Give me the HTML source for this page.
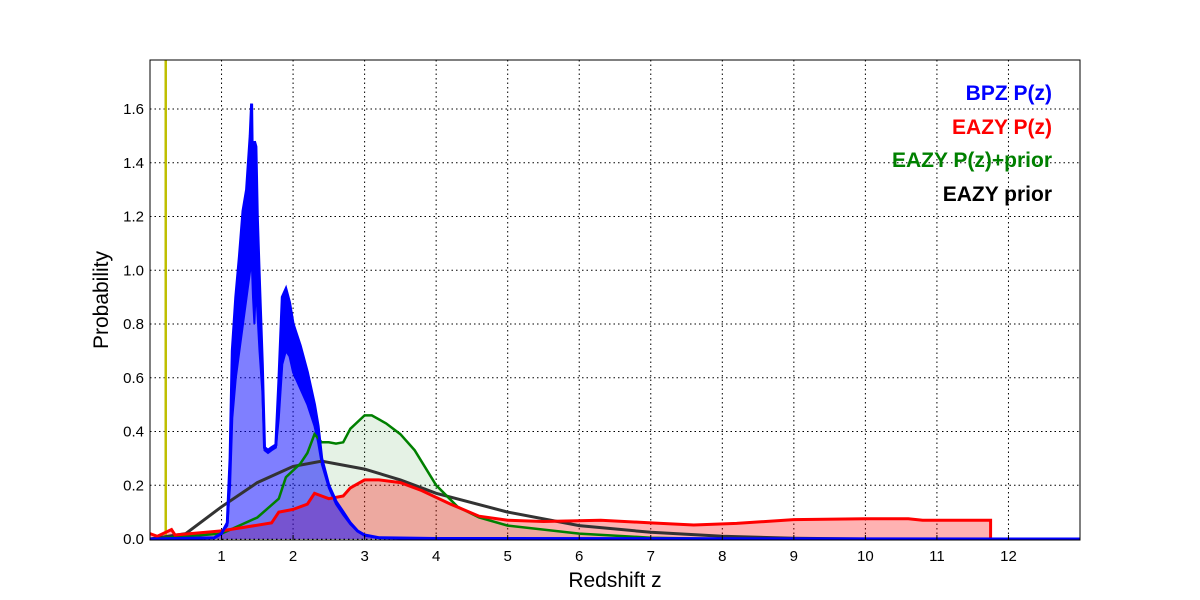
<!DOCTYPE html>
<html><head><meta charset="utf-8"><style>
body{margin:0;background:#fff;}
svg{display:block;font-family:"Liberation Sans","DejaVu Sans",sans-serif;}
</style></head><body>
<svg id="chart" width="1200" height="600">
<g id="grid"></g>
<g id="fills"></g>
<g id="lines"></g>
<rect x="150" y="60" width="930" height="480" fill="none" stroke="#000" stroke-width="1"/>
<g id="ticks"></g>
<text x="615" y="587" font-size="21" text-anchor="middle">Redshift z</text>
<text x="108" y="300" font-size="21" text-anchor="middle" transform="rotate(-90 108 300)">Probability</text>
<g font-size="21" font-weight="bold" text-anchor="end">
<text x="1052" y="100" fill="#0000ff">BPZ P(z)</text>
<text x="1052" y="134" fill="#ff0000">EAZY P(z)</text>
<text x="1052" y="167" fill="#008000">EAZY P(z)+prior</text>
<text x="1052" y="201" fill="#000">EAZY prior</text>
</g>
</svg>
<script>
const xTicks=[1,2,3,4,5,6,7,8,9,10,11,12];
const yTicks=[0,0.2,0.4,0.6,0.8,1.0,1.2,1.4,1.6];
const zBlue=[0,0.9,1.0,1.08,1.12,1.15,1.2,1.25,1.3,1.35,1.4,1.42,1.44,1.46,1.48,1.5,1.53,1.57,1.6,1.65,1.7,1.76,1.8,1.85,1.9,1.95,2.0,2.1,2.2,2.3,2.35,2.4,2.5,2.6,2.7,2.8,2.9,3.0,3.2,4,13];
const blueHi=[0,0.005,0.02,0.06,0.3,0.7,0.9,1.05,1.22,1.3,1.5,1.62,1.2,1.48,1.46,1.2,0.95,0.65,0.34,0.33,0.34,0.35,0.58,0.9,0.93,0.88,0.8,0.72,0.62,0.5,0.42,0.3,0.2,0.14,0.1,0.06,0.03,0.015,0.005,0.002,0];
const blueLo=[0,0.005,0.02,0.05,0.2,0.45,0.6,0.7,0.8,0.9,1.0,1.05,0.9,0.8,0.95,0.85,0.7,0.55,0.33,0.32,0.33,0.34,0.45,0.65,0.7,0.68,0.62,0.56,0.5,0.42,0.36,0.28,0.19,0.13,0.09,0.055,0.028,0.012,0.004,0.002,0];
const zGreen=[0,1,1.5,1.8,1.9,2.1,2.2,2.3,2.4,2.5,2.6,2.7,2.8,3.0,3.1,3.3,3.5,3.7,4.0,4.3,4.6,5,6,7,8,13];
const green=[0,0.02,0.08,0.15,0.23,0.28,0.32,0.39,0.36,0.36,0.355,0.36,0.41,0.46,0.46,0.43,0.39,0.33,0.2,0.12,0.08,0.05,0.02,0.005,0,0];
const zRed=[0,0.1,0.3,0.35,1,1.7,1.8,2.0,2.2,2.3,2.4,2.5,2.7,2.8,3.0,3.2,3.5,3.8,4.2,4.6,5,5.5,6.3,7,7.6,8.2,9,10,10.6,10.8,11.75];
const red=[0.02,0.01,0.035,0.015,0.03,0.06,0.1,0.11,0.13,0.17,0.16,0.15,0.16,0.19,0.22,0.22,0.21,0.18,0.13,0.085,0.07,0.065,0.07,0.06,0.052,0.058,0.072,0.075,0.075,0.07,0.07];
const zPrior=[0,0.5,1,1.5,2,2.4,3,3.5,4,5,6,7,8,9,10,13];
const prior=[0,0.02,0.12,0.21,0.27,0.29,0.26,0.22,0.17,0.1,0.05,0.025,0.01,0.003,0,0];
const zMarker=0.22;

const X0=150,X1=1080,Y0=539,Y1=60,ZMAX=13,PMAX=(539-60)/268.75;
const sx=z=>X0+z/ZMAX*(X1-X0);
const sy=p=>Y0-p*268.75;
const NS='http://www.w3.org/2000/svg';
function mk(tag,parent,attrs){const e=document.createElementNS(NS,tag);for(const k in attrs)e.setAttribute(k,attrs[k]);parent.appendChild(e);return e;}
const grid=document.getElementById('grid'),ticks=document.getElementById('ticks');
xTicks.forEach(t=>{
 const l=mk('line',grid,{x1:sx(t),x2:sx(t),y1:60,y2:540,stroke:'#000','stroke-dasharray':'1.5,3','stroke-width':1});
 
 
 const tk=mk('line',ticks,{x1:sx(t),x2:sx(t),y1:540,y2:535,stroke:'#000'});
 
 
 const tx=mk('text',ticks,{x:sx(t),y:561,'font-size':15,'text-anchor':'middle'});
 tx.textContent=t;
 
 
});
yTicks.forEach(t=>{
 const l=mk('line',grid,{x1:150,x2:1080,y1:sy(t),y2:sy(t),stroke:'#000','stroke-dasharray':'1.5,3','stroke-width':1});
 
 
 const tx=mk('text',ticks,{x:144,y:sy(t)+5,'font-size':15,'text-anchor':'end'});
 tx.textContent=t.toFixed(1);
 
 
});
function pts(zs,vs){return zs.map((z,i)=>sx(z).toFixed(1)+','+sy(vs[i]).toFixed(1)).join(' ');}
function area(zs,vs){return sx(zs[0])+','+sy(0)+' '+pts(zs,vs)+' '+sx(zs[zs.length-1])+','+sy(0);}
const fills=document.getElementById('fills'),lines=document.getElementById('lines');
let f;
f=mk('polygon',fills,{points:area(zGreen,green),fill:'rgba(0,128,0,0.1)'});


f=mk('polygon',fills,{points:area(zRed,red),fill:'rgba(255,0,0,0.3)'});


f=mk('polygon',fills,{points:area(zBlue,blueLo),fill:'rgba(0,0,255,0.5)'});


const band=pts(zBlue,blueHi)+' '+zBlue.slice().reverse().map((z,i)=>sx(z).toFixed(1)+','+sy(blueLo[zBlue.length-1-i]).toFixed(1)).join(' ');
f=mk('polygon',fills,{points:band,fill:'#0000ff',stroke:'#0000ff','stroke-width':2});


let ln;
ln=mk('line',lines,{x1:sx(zMarker),x2:sx(zMarker),y1:60,y2:540,stroke:'#bfbf00','stroke-width':2.5});


ln=mk('polyline',lines,{points:pts(zPrior,prior),fill:'none',stroke:'#333','stroke-width':3});


ln=mk('polyline',lines,{points:pts(zGreen,green),fill:'none',stroke:'#008000','stroke-width':2.5});


ln=mk('polyline',lines,{points:pts(zRed,red)+' '+sx(zRed[zRed.length-1])+','+sy(0),fill:'none',stroke:'#ff0000','stroke-width':3});


ln=mk('polyline',lines,{points:pts(zBlue,blueHi),fill:'none',stroke:'#0000ff','stroke-width':3});


</script>
</body></html>
